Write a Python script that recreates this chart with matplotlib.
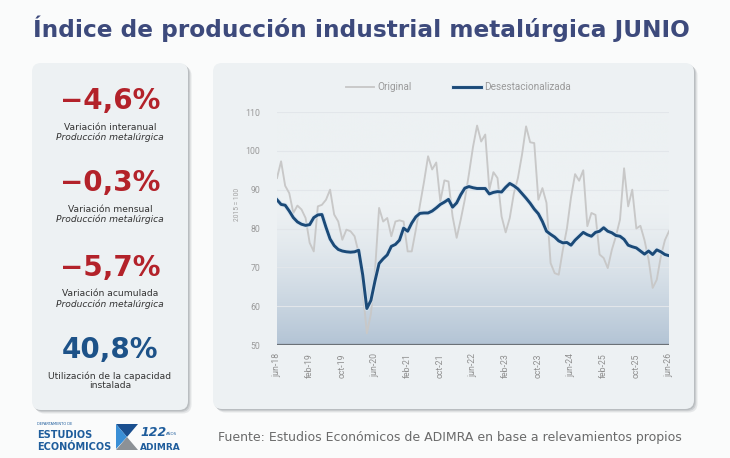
import numpy as np
import pandas as pd
import matplotlib
matplotlib.use("Agg")
import matplotlib.pyplot as plt
from matplotlib.patches import FancyBboxPatch, Polygon
import matplotlib.patheffects as pe

# ---------------- data ----------------
original = [93, 97.3, 91, 89.1, 84, 85.9, 84.9, 82.7, 76.3, 74.1,
            85.7, 86.1, 87.4, 90, 83.6, 81.8, 77.1, 79.7, 79.3, 78,
            73.7, 64.2, 53, 58, 69, 85.3, 81.8, 82.7, 78, 81.8,
            82.1, 81.8, 74.1, 74.1, 79.7, 86, 92, 98.6, 95.2, 97,
            87, 92.4, 92.1, 83.1, 77.6, 82.3, 87.5, 94, 101, 106.5,
            102.4, 104.2, 90, 94.5, 93, 83.1, 79, 82.7, 89, 93,
            99, 106.3, 102.2, 102, 87.4, 90.4, 86.6, 71.1, 68.5, 68.1,
            74.5, 80, 88, 94, 92.3, 95, 80.6, 84, 83.5, 73.3,
            72.4, 69.8, 74.5, 78, 82.3, 95.5, 85.7, 90, 80, 80.7,
            77, 72, 64.7, 66.8, 72.8, 77, 79.3]
desest = [87.4, 86.2, 86, 84.5, 82.8, 81.7, 81.1, 80.8, 81, 82.8,
          83.5, 83.6, 80.3, 77.3, 75.6, 74.6, 74.2, 74, 73.9, 74,
          74.4, 68, 59.4, 61.5, 66.5, 71, 72.2, 73.2, 75.4, 75.9,
          77, 80.1, 79.3, 81.4, 83, 83.9, 84, 84, 84.5, 85.3,
          86.2, 86.8, 87.5, 85.5, 86.6, 88.7, 90.4, 90.8, 90.5, 90.3,
          90.3, 90.3, 88.9, 89.3, 89.5, 89.4, 90.6, 91.6, 91, 90.2,
          89, 87.8, 86.5, 85, 83.8, 81.8, 79.3, 78.5, 77.8, 76.8,
          76.3, 76.4, 75.7, 77, 78, 79, 78.4, 78, 79, 79.3,
          80.2, 79.3, 78.9, 78.2, 78, 77.2, 75.7, 75.3, 75, 74.2,
          73.4, 74.2, 73.3, 74.5, 74, 73.3, 73]
tick_labels = ["jun-18", "feb-19", "oct-19", "jun-20", "feb-21", "oct-21", "jun-22",
               "feb-23", "oct-23", "jun-24", "feb-25", "oct-25", "jun-26"]
y_ticks = [50, 60, 70, 80, 90, 100, 110]
series_names = ["Original", "Desestacionalizada"]

kpi_values = ["−4,6%", "−0,3%", "−5,7%", "40,8%"]
kpi_line1 = ["Variación interanual", "Variación mensual", "Variación acumulada",
             "Utilización de la capacidad"]
kpi_line2 = ["Producción metalúrgica", "Producción metalúrgica", "Producción metalúrgica",
             "instalada"]
kpi_italic2 = [True, True, True, False]

title = "Índice de producción industrial metalúrgica JUNIO"
source = "Fuente: Estudios Económicos de ADIMRA en base a relevamientos propios"

# month labels
mes = {1: "ene", 2: "feb", 3: "mar", 4: "abr", 5: "may", 6: "jun", 7: "jul",
       8: "ago", 9: "sep", 10: "oct", 11: "nov", 12: "dic"}
months = pd.date_range("2018-06-01", periods=len(original), freq="MS")
month_labels = [f"{mes[d.month]}-{d.year % 100:02d}" for d in months]
x = np.arange(len(original))
tick_pos = [month_labels.index(t) for t in tick_labels]

# ---------------- figure ----------------
W, H = 730, 458
fig = plt.figure(figsize=(W / 100, H / 100), dpi=100)
fig.patch.set_facecolor("#fafbfb")

def fx(px):
    return px / W

def fy(py):
    return 1 - py / H

FONT = "DejaVu Sans"
CHART_FONT = "Roboto"

bg = fig.add_axes([0, 0, 1, 1])
bg.set_xlim(0, W)
bg.set_ylim(H, 0)
bg.axis("off")

card_col = "#edf1f3"
def card(x0, y0, x1, y1):
    for off, a in [(3.5, 0.18), (2.2, 0.25), (1.2, 0.3)]:
        sh = FancyBboxPatch((x0 + off, y0 + off), x1 - x0, y1 - y0,
                            boxstyle="round,pad=0,rounding_size=9",
                            fc="#8a9096", ec="none", alpha=a, zorder=1)
        bg.add_patch(sh)
    c = FancyBboxPatch((x0, y0), x1 - x0, y1 - y0,
                       boxstyle="round,pad=0,rounding_size=9",
                       fc=card_col, ec="none", zorder=2)
    bg.add_patch(c)

card(32, 63, 188, 410)
card(213, 63, 694, 409)

# title
t = fig.text(fx(33), fy(37), title, fontsize=17, fontweight="bold",
             color="#3d4a7c", family=FONT, ha="left", va="baseline")
fig.canvas.draw()
bb = t.get_window_extent(fig.canvas.get_renderer())
t.set_fontsize(17 * (657 / bb.width))

# KPI panel
kpi_y = [101, 183, 268, 350]
kpi_col = ["#b3222a", "#b3222a", "#b3222a", "#1d5288"]
for v, l1, l2, it, yy, c in zip(kpi_values, kpi_line1, kpi_line2, kpi_italic2, kpi_y, kpi_col):
    fig.text(fx(110), fy(yy), v, fontsize=20, fontweight="bold", color=c,
             family=FONT, ha="center", va="center")
    fig.text(fx(110), fy(yy + 26), l1, fontsize=6.6, color="#333333",
             family=FONT, ha="center", va="center")
    fig.text(fx(110), fy(yy + 36), l2, fontsize=6.6, color="#333333",
             family=FONT, ha="center", va="center",
             style="italic" if it else "normal")

# footer
s = fig.text(fx(218), fy(437), source, fontsize=8, color="#6a6a6a",
             family=FONT, ha="left", va="center")
fig.canvas.draw()
bb = s.get_window_extent(fig.canvas.get_renderer())
s.set_fontsize(8 * (466 / bb.width))

# logos (approximate)
logo_blue = "#1f5d9c"
fig.text(fx(37), fy(424), "DEPARTAMENTO DE", fontsize=2.6, color=logo_blue,
         family=FONT, ha="left", va="center")
fig.text(fx(37), fy(435.5), "ESTUDIOS", fontsize=7, fontweight="bold", color=logo_blue,
         family=FONT, ha="left", va="center")
fig.text(fx(37), fy(447), "ECONÓMICOS", fontsize=7, fontweight="bold", color=logo_blue,
         family=FONT, ha="left", va="center")
bg.add_patch(Polygon([(116, 424), (138, 424), (127, 437)], closed=True, fc="#1a4f8f", ec="none", zorder=3))
bg.add_patch(Polygon([(116, 424), (127, 437), (116, 449)], closed=True, fc="#3a8fd6", ec="none", zorder=3))
bg.add_patch(Polygon([(116, 450), (127, 437), (138, 450)], closed=True, fc="#8c9196", ec="none", zorder=3))
fig.text(fx(140), fy(433), "122", fontsize=9, fontweight="bold", style="italic",
         color=logo_blue, family=FONT, ha="left", va="center")
fig.text(fx(166), fy(434), "AÑOS", fontsize=2.8, color=logo_blue,
         family=FONT, ha="left", va="center")
fig.text(fx(140), fy(447), "ADIMRA", fontsize=6.5, fontweight="bold", color=logo_blue,
         family=FONT, ha="left", va="center")

# ---------------- chart ----------------
L, R, T, B = 277, 669, 112, 345
ax = fig.add_axes([fx(L), fy(B), fx(R) - fx(L), (B - T) / H])
ax.set_facecolor("none")
ax.set_xlim(x[0], x[-1])
ax.set_ylim(y_ticks[0], y_ticks[-1])

# vertical gradient background
n = 256
vals = np.linspace(y_ticks[-1], y_ticks[0], n)
frac = np.clip((86 - vals) / (86 - y_ticks[0]), 0, 1) ** 1.4
top = np.array(matplotlib.colors.to_rgb(card_col))
bot = np.array(matplotlib.colors.to_rgb("#b3c4d5"))
grad = top[None, :] * (1 - frac[:, None]) + bot[None, :] * frac[:, None]
img = np.repeat(grad[:, None, :], 2, axis=1)
ax.imshow(img, extent=[x[0], x[-1], y_ticks[0], y_ticks[-1]], aspect="auto",
          origin="upper", zorder=0, interpolation="bilinear")

for yv in y_ticks[1:]:
    ax.axhline(yv, color="#e2e6ea", lw=0.8, zorder=1)
ax.axhline(y_ticks[0], color="#6b7177", lw=1.6, zorder=4)

ax.plot(x, original, color="#c8c8c8", lw=1.35, zorder=2, label=series_names[0],
        solid_joinstyle="round")
ax.plot(x, desest, color="#1b4a78", lw=2.1, zorder=3, label=series_names[1],
        solid_joinstyle="round",
        path_effects=[pe.Stroke(linewidth=3.6, foreground="#d6e4f0", alpha=0.7), pe.Normal()])

for sp in ax.spines.values():
    sp.set_visible(False)
ax.set_yticks(y_ticks)
ax.set_yticklabels([str(v) for v in y_ticks], fontsize=6.3, color="#9a9a9a",
                   family=CHART_FONT)
ax.set_xticks(tick_pos)
ax.set_xticklabels(tick_labels, rotation=90, fontsize=6.3, color="#8f8f8f",
                   family=CHART_FONT, va="top", ha="center")
ax.tick_params(axis="both", length=0)
ax.tick_params(axis="y", pad=12)
ax.tick_params(axis="x", pad=6)
ax.set_ylabel("2015 = 100", fontsize=4.8, color="#a0a0a0", family=CHART_FONT)
ax.yaxis.set_label_coords((241 - L) / (R - L), (B - 204) / (B - T))

leg = ax.legend(loc="center", bbox_to_anchor=((458.5 - L) / (R - L), (B - 87) / (B - T)),
                ncol=2, frameon=False,
                prop={"family": CHART_FONT, "size": 7.2}, handlelength=2.8,
                handletextpad=0.3, columnspacing=4.2, borderaxespad=0)
for txt in leg.get_texts():
    txt.set_color("#9a9a9a")

fig.savefig("out.png", dpi=100, facecolor=fig.get_facecolor())
